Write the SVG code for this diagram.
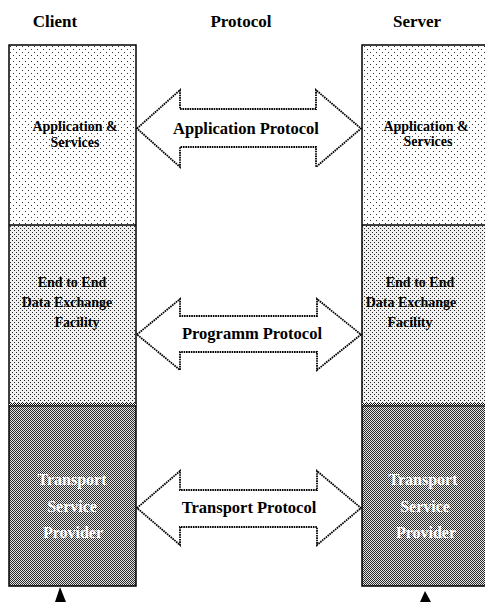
<svg xmlns="http://www.w3.org/2000/svg" width="485" height="602" viewBox="0 0 485 602">
  <defs>
    <!-- sparse dot screen for the application layer -->
    <pattern id="dotsSparse" width="6" height="6" patternUnits="userSpaceOnUse">
      <rect width="6" height="6" fill="#ffffff"/>
      <rect x="1" y="1" width="1" height="1" fill="#333"/>
      <rect x="4" y="4" width="1" height="1" fill="#333"/>
    </pattern>
    <!-- denser dot screen for the data exchange layer -->
    <pattern id="dotsDense" width="4" height="4" patternUnits="userSpaceOnUse">
      <rect width="4" height="4" fill="#f0f0f0"/>
      <rect x="0" y="0" width="1" height="1" fill="#222"/>
      <rect x="2" y="2" width="1" height="1" fill="#222"/>
    </pattern>
    <!-- dark checker screen for the transport layer -->
    <pattern id="checker" width="2" height="2" patternUnits="userSpaceOnUse">
      <rect width="2" height="2" fill="#e4e4e4"/>
      <rect x="0" y="0" width="1" height="1" fill="#2a2a2a"/>
      <rect x="1" y="1" width="1" height="1" fill="#2a2a2a"/>
    </pattern>
    <!-- fine checker band along the layer borders -->
    <pattern id="band" width="2" height="2" patternUnits="userSpaceOnUse">
      <rect width="2" height="2" fill="#ffffff"/>
      <rect x="0" y="0" width="1" height="1" fill="#000"/>
      <rect x="1" y="1" width="1" height="1" fill="#000"/>
    </pattern>
  </defs>
  <style>
    .head { font-family: "Liberation Serif", "Times New Roman", serif; font-weight: bold; font-size: 17px; fill: #000; text-anchor: middle; }
    .lbl { font-family: "Liberation Serif", "Times New Roman", serif; font-weight: bold; font-size: 14px; fill: #000; text-anchor: middle; }
    .lblw { font-family: "Liberation Serif", "Times New Roman", serif; font-weight: bold; font-size: 16px; fill: #fff; text-anchor: middle; }
    .plbl { font-family: "Liberation Serif", "Times New Roman", serif; font-weight: bold; font-size: 16.5px; fill: #000; text-anchor: middle; }
    .frame { stroke: #000; stroke-width: 1.5; fill: none; }
    .arrow { fill: #fff; stroke: #000; stroke-width: 1.8; stroke-dasharray: 1.6 0.8; stroke-linejoin: miter; }
    .tip { fill: #000; }
  </style>

  <rect width="485" height="602" fill="#fff"/>

  <!-- column headings -->
  <text class="head" x="55" y="27">Client</text>
  <text class="head" x="241" y="27">Protocol</text>
  <text class="head" x="417" y="27">Server</text>

  <!-- client stack -->
  <g id="client-application">
    <rect x="9" y="45" width="127" height="180" fill="url(#dotsSparse)"/>
    <text class="lbl" x="75" y="131">Application &amp;</text>
    <text class="lbl" x="75" y="147">Services</text>
  </g>
  <g id="client-data-exchange">
    <rect x="9" y="225" width="127" height="181" fill="url(#dotsDense)"/>
    <text class="lbl" x="72" y="287">End to End</text>
    <text class="lbl" x="67" y="307">Data Exchange</text>
    <text class="lbl" x="77" y="327">Facility</text>
  </g>
  <g id="client-transport">
    <rect x="9" y="406" width="127" height="180" fill="url(#checker)"/>
    <text class="lblw" x="72" y="485">Transport</text>
    <text class="lblw" x="72" y="512">Service</text>
    <text class="lblw" x="73" y="538">Provider</text>
  </g>
  <g id="client-frame">
    <rect class="frame" x="9" y="45" width="127" height="541"/>
    <line x1="9" y1="225" x2="136" y2="225" stroke="#000" stroke-width="1.5"/>
    <rect x="9" y="403" width="127" height="3" fill="url(#band)"/>
    <line x1="9" y1="406" x2="136" y2="406" stroke="#000" stroke-width="1"/>
  </g>

  <!-- server stack -->
  <g id="server-application">
    <rect x="362" y="45" width="128" height="180" fill="url(#dotsSparse)"/>
    <text class="lbl" x="426" y="131">Application &amp;</text>
    <text class="lbl" x="428" y="146">Services</text>
  </g>
  <g id="server-data-exchange">
    <rect x="362" y="225" width="128" height="181" fill="url(#dotsDense)"/>
    <text class="lbl" x="420" y="287">End to End</text>
    <text class="lbl" x="411" y="307">Data Exchange</text>
    <text class="lbl" x="410" y="327">Facility</text>
  </g>
  <g id="server-transport">
    <rect x="362" y="406" width="128" height="180" fill="url(#checker)"/>
    <text class="lblw" x="423" y="485">Transport</text>
    <text class="lblw" x="425" y="512">Service</text>
    <text class="lblw" x="426" y="538">Provider</text>
  </g>
  <g id="server-frame">
    <rect class="frame" x="362" y="45" width="128" height="541"/>
    <line x1="362" y1="225" x2="490" y2="225" stroke="#000" stroke-width="1.5"/>
    <rect x="362" y="403" width="128" height="3" fill="url(#band)"/>
    <line x1="362" y1="406" x2="490" y2="406" stroke="#000" stroke-width="1"/>
  </g>

  <!-- peer protocol arrows and external links -->
  <g id="connectors">
    <g id="application-protocol">
      <polygon class="arrow" points="137,128.5 180,90 180,109 316,109 316,90 361,128.5 316,167 316,147 180,147 180,167"/>
      <text class="plbl" x="246" y="134">Application Protocol</text>
    </g>
    <g id="programm-protocol">
      <polygon class="arrow" points="137,334.5 180,299 180,316 317,316 317,299 361,334.5 317,370 317,352 180,352 180,370"/>
      <text class="plbl" x="252" y="339">Programm Protocol</text>
    </g>
    <g id="transport-protocol">
      <polygon class="arrow" points="137,508 180,471 180,490 317,490 317,471 361,508 317,545 317,527 180,527 180,545"/>
      <text class="plbl" x="249" y="513">Transport Protocol</text>
    </g>
    <polygon class="tip" points="60,587 55,602 66,602"/>
    <polygon class="tip" points="425,591 420,602 431,602"/>
  </g>
</svg>
